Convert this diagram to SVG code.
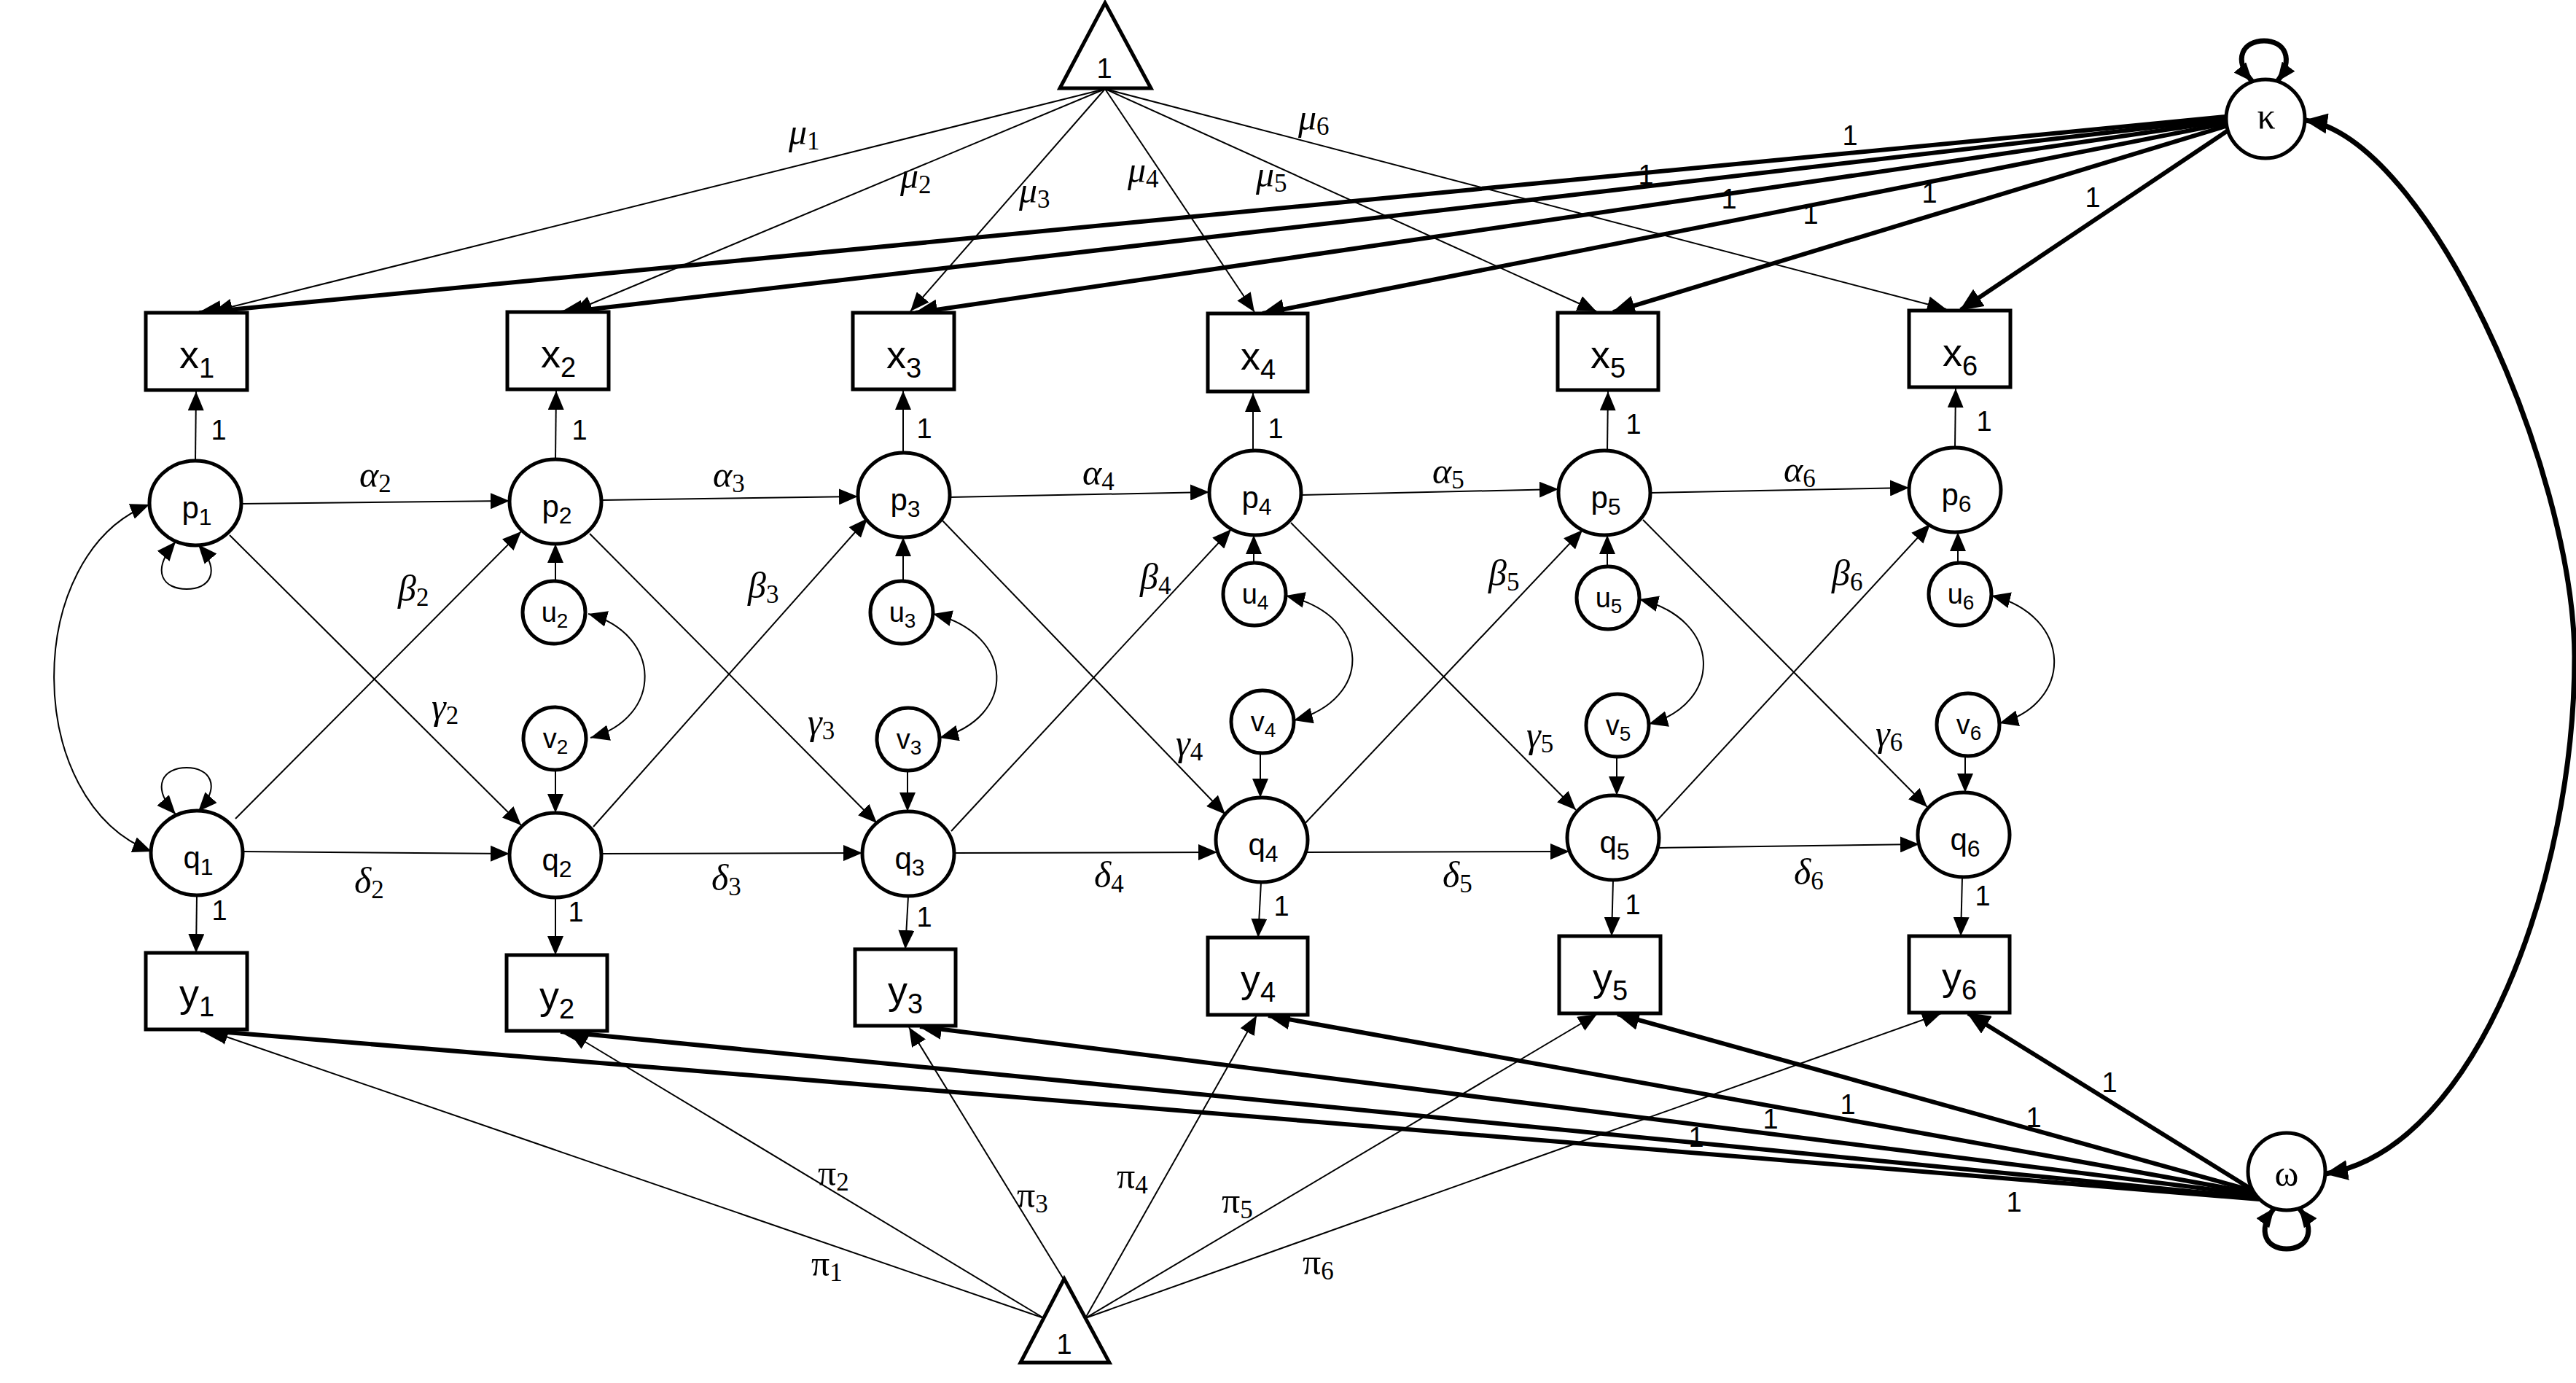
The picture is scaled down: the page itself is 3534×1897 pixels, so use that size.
<svg xmlns="http://www.w3.org/2000/svg" width="3534" height="1897" viewBox="0 0 3534 1897">
<defs>
<style>
.ln{fill:none;stroke:#000;stroke-width:2}
.lk{fill:none;stroke:#000;stroke-width:6}
.ll{fill:none;stroke:#000;stroke-width:7}
.ar{marker-end:url(#a)}
.ak{marker-end:url(#b)}
.da{marker-start:url(#a);marker-end:url(#a)}
.db{marker-start:url(#b);marker-end:url(#b)}
.nd{fill:#fff;stroke:#000;stroke-width:5}
text{font-family:"Liberation Sans",Arial,sans-serif;fill:#000}
.bx{font-size:54px;text-anchor:middle}
.cl{font-size:42px;text-anchor:middle}
.sm{font-size:38px;text-anchor:middle}
.one{font-size:38px;text-anchor:middle}
.gr{font-family:"Liberation Serif","DejaVu Serif",serif;font-style:italic;font-size:50px}
.gu{font-family:"Liberation Serif","DejaVu Serif",serif;font-size:50px}
.sb{font-style:normal;font-size:35px}
</style>
<marker id="a" viewBox="0 0 26 22" refX="26" refY="11" markerWidth="26" markerHeight="22" markerUnits="userSpaceOnUse" orient="auto-start-reverse"><path d="M0,0L26,11L0,22z"/></marker>
<marker id="b" viewBox="0 0 32 28" refX="30" refY="14" markerWidth="32" markerHeight="28" markerUnits="userSpaceOnUse" orient="auto-start-reverse"><path d="M0,0L32,14L0,28z"/></marker>
</defs>
<rect width="3534" height="1897" fill="#fff"/>
<g id="connectors">
<line class="ln ar" x1="1516" y1="122" x2="293" y2="427"/>
<line class="ln ar" x1="1516" y1="122" x2="786" y2="427"/>
<line class="ln ar" x1="1516" y1="122" x2="1249" y2="427"/>
<line class="ln ar" x1="1516" y1="122" x2="1721" y2="428"/>
<line class="ln ar" x1="1516" y1="122" x2="2190" y2="427"/>
<line class="ln ar" x1="1516" y1="122" x2="2670" y2="424"/>
<line class="lk ak" x1="3054" y1="160" x2="273" y2="429"/>
<line class="lk ak" x1="3054" y1="163" x2="769" y2="429"/>
<line class="lk ak" x1="3054" y1="166" x2="1256" y2="429"/>
<line class="lk ak" x1="3055" y1="169" x2="1732" y2="430"/>
<line class="lk ak" x1="3057" y1="172" x2="2213" y2="428"/>
<line class="lk ak" x1="3061" y1="176" x2="2690" y2="425"/>
<line class="ln ar" x1="268" y1="632" x2="269" y2="537"/>
<line class="ln ar" x1="762" y1="630" x2="763" y2="536"/>
<line class="ln ar" x1="1239" y1="621" x2="1239" y2="536"/>
<line class="ln ar" x1="1719" y1="618" x2="1719" y2="539"/>
<line class="ln ar" x1="2205" y1="618" x2="2206" y2="537"/>
<line class="ln ar" x1="2682" y1="614" x2="2683" y2="533"/>
<line class="ln ar" x1="270" y1="1228" x2="269" y2="1307"/>
<line class="ln ar" x1="762" y1="1231" x2="762" y2="1310"/>
<line class="ln ar" x1="1246" y1="1229" x2="1242" y2="1302"/>
<line class="ln ar" x1="1730" y1="1210" x2="1726" y2="1286"/>
<line class="ln ar" x1="2213" y1="1207" x2="2211" y2="1284"/>
<line class="ln ar" x1="2692" y1="1203" x2="2690" y2="1284"/>
<line class="ln ar" x1="762" y1="797" x2="762" y2="746"/>
<line class="ln ar" x1="1239" y1="797" x2="1239" y2="737"/>
<line class="ln ar" x1="1720" y1="772" x2="1720" y2="734"/>
<line class="ln ar" x1="2205" y1="777" x2="2205" y2="734"/>
<line class="ln ar" x1="2686" y1="772" x2="2686" y2="730"/>
<line class="ln ar" x1="762" y1="1056" x2="762" y2="1115"/>
<line class="ln ar" x1="1245" y1="1057" x2="1245" y2="1113"/>
<line class="ln ar" x1="1729" y1="1033" x2="1729" y2="1094"/>
<line class="ln ar" x1="2218" y1="1038" x2="2218" y2="1091"/>
<line class="ln ar" x1="2696" y1="1037" x2="2696" y2="1087"/>
<line class="ln ar" x1="331" y1="691" x2="699" y2="687"/>
<line class="ln ar" x1="825" y1="686" x2="1177" y2="681"/>
<line class="ln ar" x1="1303" y1="682" x2="1659" y2="675"/>
<line class="ln ar" x1="1785" y1="679" x2="2138" y2="671"/>
<line class="ln ar" x1="2264" y1="676" x2="2619" y2="669"/>
<line class="ln ar" x1="333" y1="1168" x2="699" y2="1171"/>
<line class="ln ar" x1="825" y1="1171" x2="1183" y2="1170"/>
<line class="ln ar" x1="1309" y1="1170" x2="1670" y2="1169"/>
<line class="ln ar" x1="1792" y1="1169" x2="2153" y2="1168"/>
<line class="ln ar" x1="2275" y1="1163" x2="2633" y2="1158"/>
<line class="ln ar" x1="323" y1="1123" x2="715" y2="729"/>
<line class="ln ar" x1="814" y1="1134" x2="1190" y2="711"/>
<line class="ln ar" x1="1305" y1="1140" x2="1689" y2="726"/>
<line class="ln ar" x1="1786" y1="1134" x2="2171" y2="727"/>
<line class="ln ar" x1="2271" y1="1128" x2="2648" y2="719"/>
<line class="ln ar" x1="315" y1="734" x2="715" y2="1132"/>
<line class="ln ar" x1="809" y1="732" x2="1203" y2="1129"/>
<line class="ln ar" x1="1290" y1="711" x2="1681" y2="1117"/>
<line class="ln ar" x1="1771" y1="717" x2="2162" y2="1111"/>
<line class="ln ar" x1="2254" y1="713" x2="2644" y2="1107"/>
<path class="ln da" d="M807,842 C910,870 910,985 810,1012"/>
<path class="ln da" d="M1280,842 C1395,870 1395,985 1289,1012"/>
<path class="ln da" d="M1764,817 C1884,845 1884,960 1775,988"/>
<path class="ln da" d="M2249,822 C2364,850 2364,965 2262,993"/>
<path class="ln da" d="M2732,817 C2845,845 2845,965 2743,992"/>
<path class="ln da" d="M205,692 C30,760 30,1100 208,1168"/>
<path class="ln da" d="M241,743 C205,785 225,808 256,808 C287,808 305,785 272,747"/>
<path class="ln da" d="M241,1117 C205,1077 225,1053 256,1053 C287,1053 305,1077 272,1113"/>
<path class="ll da" d="M3090,112 C3062,80 3078,56 3106,56 C3134,56 3148,80 3124,112"/>
<path class="ll da" d="M3120,1657 C3095,1690 3110,1713 3137,1713 C3164,1713 3179,1690 3154,1657"/>
<path class="ll db" d="M3163,165 C3330,190 3530,640 3532,900 C3532,1200 3400,1575 3191,1610"/>
<line class="lk ak" x1="3100" y1="1645" x2="275" y2="1413"/>
<line class="lk ak" x1="3097" y1="1643" x2="769" y2="1415"/>
<line class="lk ak" x1="3093" y1="1639" x2="1262" y2="1408"/>
<line class="lk ak" x1="3091" y1="1636" x2="1740" y2="1393"/>
<line class="lk ak" x1="3089" y1="1633" x2="2219" y2="1391"/>
<line class="lk ak" x1="3087" y1="1630" x2="2700" y2="1390"/>
<line class="ln ar" x1="1432" y1="1808" x2="287" y2="1414"/>
<line class="ln ar" x1="1432" y1="1808" x2="781" y2="1416"/>
<line class="ln ar" x1="1460" y1="1756" x2="1247" y2="1409"/>
<line class="ln ar" x1="1489" y1="1808" x2="1724" y2="1393"/>
<line class="ln ar" x1="1489" y1="1808" x2="2191" y2="1391"/>
<line class="ln ar" x1="1489" y1="1808" x2="2663" y2="1390"/>
</g>
<g id="edge-labels">
<text class="one" x="300" y="603">1</text>
<text class="one" x="795" y="603">1</text>
<text class="one" x="1268" y="601">1</text>
<text class="one" x="1750" y="601">1</text>
<text class="one" x="2241" y="595">1</text>
<text class="one" x="2722" y="591">1</text>
<text class="one" x="301" y="1262">1</text>
<text class="one" x="790" y="1264">1</text>
<text class="one" x="1268" y="1271">1</text>
<text class="one" x="1758" y="1256">1</text>
<text class="one" x="2240" y="1254">1</text>
<text class="one" x="2720" y="1242">1</text>
<text class="one" x="2538" y="199">1</text>
<text class="one" x="2258" y="253">1</text>
<text class="one" x="2372" y="286">1</text>
<text class="one" x="2484" y="307">1</text>
<text class="one" x="2647" y="278">1</text>
<text class="one" x="2871" y="284">1</text>
<text class="one" x="2894" y="1498">1</text>
<text class="one" x="2790" y="1546">1</text>
<text class="one" x="2535" y="1528">1</text>
<text class="one" x="2429" y="1548">1</text>
<text class="one" x="2327" y="1573">1</text>
<text class="one" x="2763" y="1662">1</text>
<text class="gr" x="493" y="668">α<tspan class="sb" dy="7">2</tspan></text>
<text class="gr" x="978" y="668">α<tspan class="sb" dy="7">3</tspan></text>
<text class="gr" x="1485" y="665">α<tspan class="sb" dy="7">4</tspan></text>
<text class="gr" x="1965" y="663">α<tspan class="sb" dy="7">5</tspan></text>
<text class="gr" x="2447" y="661">α<tspan class="sb" dy="7">6</tspan></text>
<text class="gr" x="546" y="824">β<tspan class="sb" dy="7">2</tspan></text>
<text class="gr" x="1026" y="820">β<tspan class="sb" dy="7">3</tspan></text>
<text class="gr" x="1564" y="808">β<tspan class="sb" dy="7">4</tspan></text>
<text class="gr" x="2042" y="803">β<tspan class="sb" dy="7">5</tspan></text>
<text class="gr" x="2513" y="803">β<tspan class="sb" dy="7">6</tspan></text>
<text class="gr" x="592" y="986">γ<tspan class="sb" dy="7">2</tspan></text>
<text class="gr" x="1108" y="1007">γ<tspan class="sb" dy="7">3</tspan></text>
<text class="gr" x="1613" y="1036">γ<tspan class="sb" dy="7">4</tspan></text>
<text class="gr" x="2094" y="1025">γ<tspan class="sb" dy="7">5</tspan></text>
<text class="gr" x="2573" y="1023">γ<tspan class="sb" dy="7">6</tspan></text>
<text class="gr" x="486" y="1225">δ<tspan class="sb" dy="7">2</tspan></text>
<text class="gr" x="976" y="1221">δ<tspan class="sb" dy="7">3</tspan></text>
<text class="gr" x="1501" y="1217">δ<tspan class="sb" dy="7">4</tspan></text>
<text class="gr" x="1979" y="1217">δ<tspan class="sb" dy="7">5</tspan></text>
<text class="gr" x="2461" y="1213">δ<tspan class="sb" dy="7">6</tspan></text>
<text class="gr" x="1082" y="198">μ<tspan class="sb" dy="7">1</tspan></text>
<text class="gr" x="1235" y="258">μ<tspan class="sb" dy="7">2</tspan></text>
<text class="gr" x="1398" y="278">μ<tspan class="sb" dy="7">3</tspan></text>
<text class="gr" x="1547" y="250">μ<tspan class="sb" dy="7">4</tspan></text>
<text class="gr" x="1723" y="256">μ<tspan class="sb" dy="7">5</tspan></text>
<text class="gr" x="1781" y="178">μ<tspan class="sb" dy="7">6</tspan></text>
<text class="gu" x="1113" y="1750">π<tspan class="sb" dy="7">1</tspan></text>
<text class="gu" x="1122" y="1626">π<tspan class="sb" dy="7">2</tspan></text>
<text class="gu" x="1395" y="1656">π<tspan class="sb" dy="7">3</tspan></text>
<text class="gu" x="1532" y="1630">π<tspan class="sb" dy="7">4</tspan></text>
<text class="gu" x="1676" y="1664">π<tspan class="sb" dy="7">5</tspan></text>
<text class="gu" x="1787" y="1748">π<tspan class="sb" dy="7">6</tspan></text>
</g>
<g id="one-top"><path class="nd" d="M1516,4 L1454,121 L1579,121 Z"/><text class="one" x="1515" y="107">1</text></g>
<g id="one-bottom"><path class="nd" d="M1460,1754 L1400,1869 L1522,1869 Z"/><text class="one" x="1460" y="1857">1</text></g>
<g id="kappa"><circle class="nd" cx="3108" cy="163" r="54"/><text class="gu" x="3109" y="176" text-anchor="middle">κ</text></g>
<g id="omega"><circle class="nd" cx="3137" cy="1607" r="53"/><text class="gu" x="3137" y="1627" text-anchor="middle">ω</text></g>
<g id="x1"><rect class="nd" x="200" y="429" width="139" height="106"/><text class="bx" x="270" y="505">x<tspan font-size="38" dy="13">1</tspan></text></g>
<g id="x2"><rect class="nd" x="696" y="428" width="139" height="106"/><text class="bx" x="766" y="504">x<tspan font-size="38" dy="13">2</tspan></text></g>
<g id="x3"><rect class="nd" x="1170" y="429" width="139" height="105"/><text class="bx" x="1240" y="505">x<tspan font-size="38" dy="13">3</tspan></text></g>
<g id="x4"><rect class="nd" x="1657" y="430" width="137" height="107"/><text class="bx" x="1726" y="507">x<tspan font-size="38" dy="13">4</tspan></text></g>
<g id="x5"><rect class="nd" x="2137" y="429" width="138" height="106"/><text class="bx" x="2206" y="505">x<tspan font-size="38" dy="13">5</tspan></text></g>
<g id="x6"><rect class="nd" x="2619" y="426" width="139" height="105"/><text class="bx" x="2689" y="502">x<tspan font-size="38" dy="13">6</tspan></text></g>
<g id="y1"><rect class="nd" x="200" y="1307" width="139" height="105"/><text class="bx" x="270" y="1381">y<tspan font-size="38" dy="13">1</tspan></text></g>
<g id="y2"><rect class="nd" x="695" y="1310" width="138" height="104"/><text class="bx" x="764" y="1384">y<tspan font-size="38" dy="13">2</tspan></text></g>
<g id="y3"><rect class="nd" x="1173" y="1302" width="138" height="105"/><text class="bx" x="1242" y="1377">y<tspan font-size="38" dy="13">3</tspan></text></g>
<g id="y4"><rect class="nd" x="1657" y="1286" width="137" height="106"/><text class="bx" x="1726" y="1361">y<tspan font-size="38" dy="13">4</tspan></text></g>
<g id="y5"><rect class="nd" x="2139" y="1284" width="139" height="106"/><text class="bx" x="2209" y="1359">y<tspan font-size="38" dy="13">5</tspan></text></g>
<g id="y6"><rect class="nd" x="2619" y="1284" width="138" height="105"/><text class="bx" x="2688" y="1358">y<tspan font-size="38" dy="13">6</tspan></text></g>
<g id="p1"><ellipse class="nd" cx="268" cy="690" rx="63" ry="58"/><text class="cl" x="270" y="711">p<tspan font-size="32" dy="9">1</tspan></text></g>
<g id="p2"><ellipse class="nd" cx="762" cy="688" rx="63" ry="58"/><text class="cl" x="764" y="709">p<tspan font-size="32" dy="9">2</tspan></text></g>
<g id="p3"><ellipse class="nd" cx="1240" cy="679" rx="63" ry="58"/><text class="cl" x="1242" y="700">p<tspan font-size="32" dy="9">3</tspan></text></g>
<g id="p4"><ellipse class="nd" cx="1722" cy="676" rx="63" ry="58"/><text class="cl" x="1724" y="697">p<tspan font-size="32" dy="9">4</tspan></text></g>
<g id="p5"><ellipse class="nd" cx="2201" cy="676" rx="63" ry="58"/><text class="cl" x="2203" y="697">p<tspan font-size="32" dy="9">5</tspan></text></g>
<g id="p6"><ellipse class="nd" cx="2682" cy="672" rx="63" ry="58"/><text class="cl" x="2684" y="693">p<tspan font-size="32" dy="9">6</tspan></text></g>
<g id="q1"><ellipse class="nd" cx="270" cy="1170" rx="63" ry="58"/><text class="cl" x="272" y="1191">q<tspan font-size="32" dy="9">1</tspan></text></g>
<g id="q2"><ellipse class="nd" cx="762" cy="1173" rx="63" ry="58"/><text class="cl" x="764" y="1194">q<tspan font-size="32" dy="9">2</tspan></text></g>
<g id="q3"><ellipse class="nd" cx="1246" cy="1171" rx="63" ry="58"/><text class="cl" x="1248" y="1192">q<tspan font-size="32" dy="9">3</tspan></text></g>
<g id="q4"><ellipse class="nd" cx="1731" cy="1152" rx="63" ry="58"/><text class="cl" x="1733" y="1173">q<tspan font-size="32" dy="9">4</tspan></text></g>
<g id="q5"><ellipse class="nd" cx="2213" cy="1149" rx="63" ry="58"/><text class="cl" x="2215" y="1170">q<tspan font-size="32" dy="9">5</tspan></text></g>
<g id="q6"><ellipse class="nd" cx="2694" cy="1145" rx="63" ry="58"/><text class="cl" x="2696" y="1166">q<tspan font-size="32" dy="9">6</tspan></text></g>
<g id="u2"><circle class="nd" cx="760" cy="840" r="43"/><text class="sm" x="761" y="853">u<tspan font-size="28" dy="8">2</tspan></text></g>
<g id="u3"><circle class="nd" cx="1237" cy="840" r="43"/><text class="sm" x="1238" y="853">u<tspan font-size="28" dy="8">3</tspan></text></g>
<g id="u4"><circle class="nd" cx="1721" cy="815" r="43"/><text class="sm" x="1722" y="828">u<tspan font-size="28" dy="8">4</tspan></text></g>
<g id="u5"><circle class="nd" cx="2206" cy="820" r="43"/><text class="sm" x="2207" y="833">u<tspan font-size="28" dy="8">5</tspan></text></g>
<g id="u6"><circle class="nd" cx="2689" cy="815" r="43"/><text class="sm" x="2690" y="828">u<tspan font-size="28" dy="8">6</tspan></text></g>
<g id="v2"><circle class="nd" cx="761" cy="1013" r="43"/><text class="sm" x="762" y="1026">v<tspan font-size="28" dy="8">2</tspan></text></g>
<g id="v3"><circle class="nd" cx="1246" cy="1014" r="43"/><text class="sm" x="1247" y="1027">v<tspan font-size="28" dy="8">3</tspan></text></g>
<g id="v4"><circle class="nd" cx="1732" cy="990" r="43"/><text class="sm" x="1733" y="1003">v<tspan font-size="28" dy="8">4</tspan></text></g>
<g id="v5"><circle class="nd" cx="2219" cy="995" r="43"/><text class="sm" x="2220" y="1008">v<tspan font-size="28" dy="8">5</tspan></text></g>
<g id="v6"><circle class="nd" cx="2700" cy="994" r="43"/><text class="sm" x="2701" y="1007">v<tspan font-size="28" dy="8">6</tspan></text></g>
</svg>
